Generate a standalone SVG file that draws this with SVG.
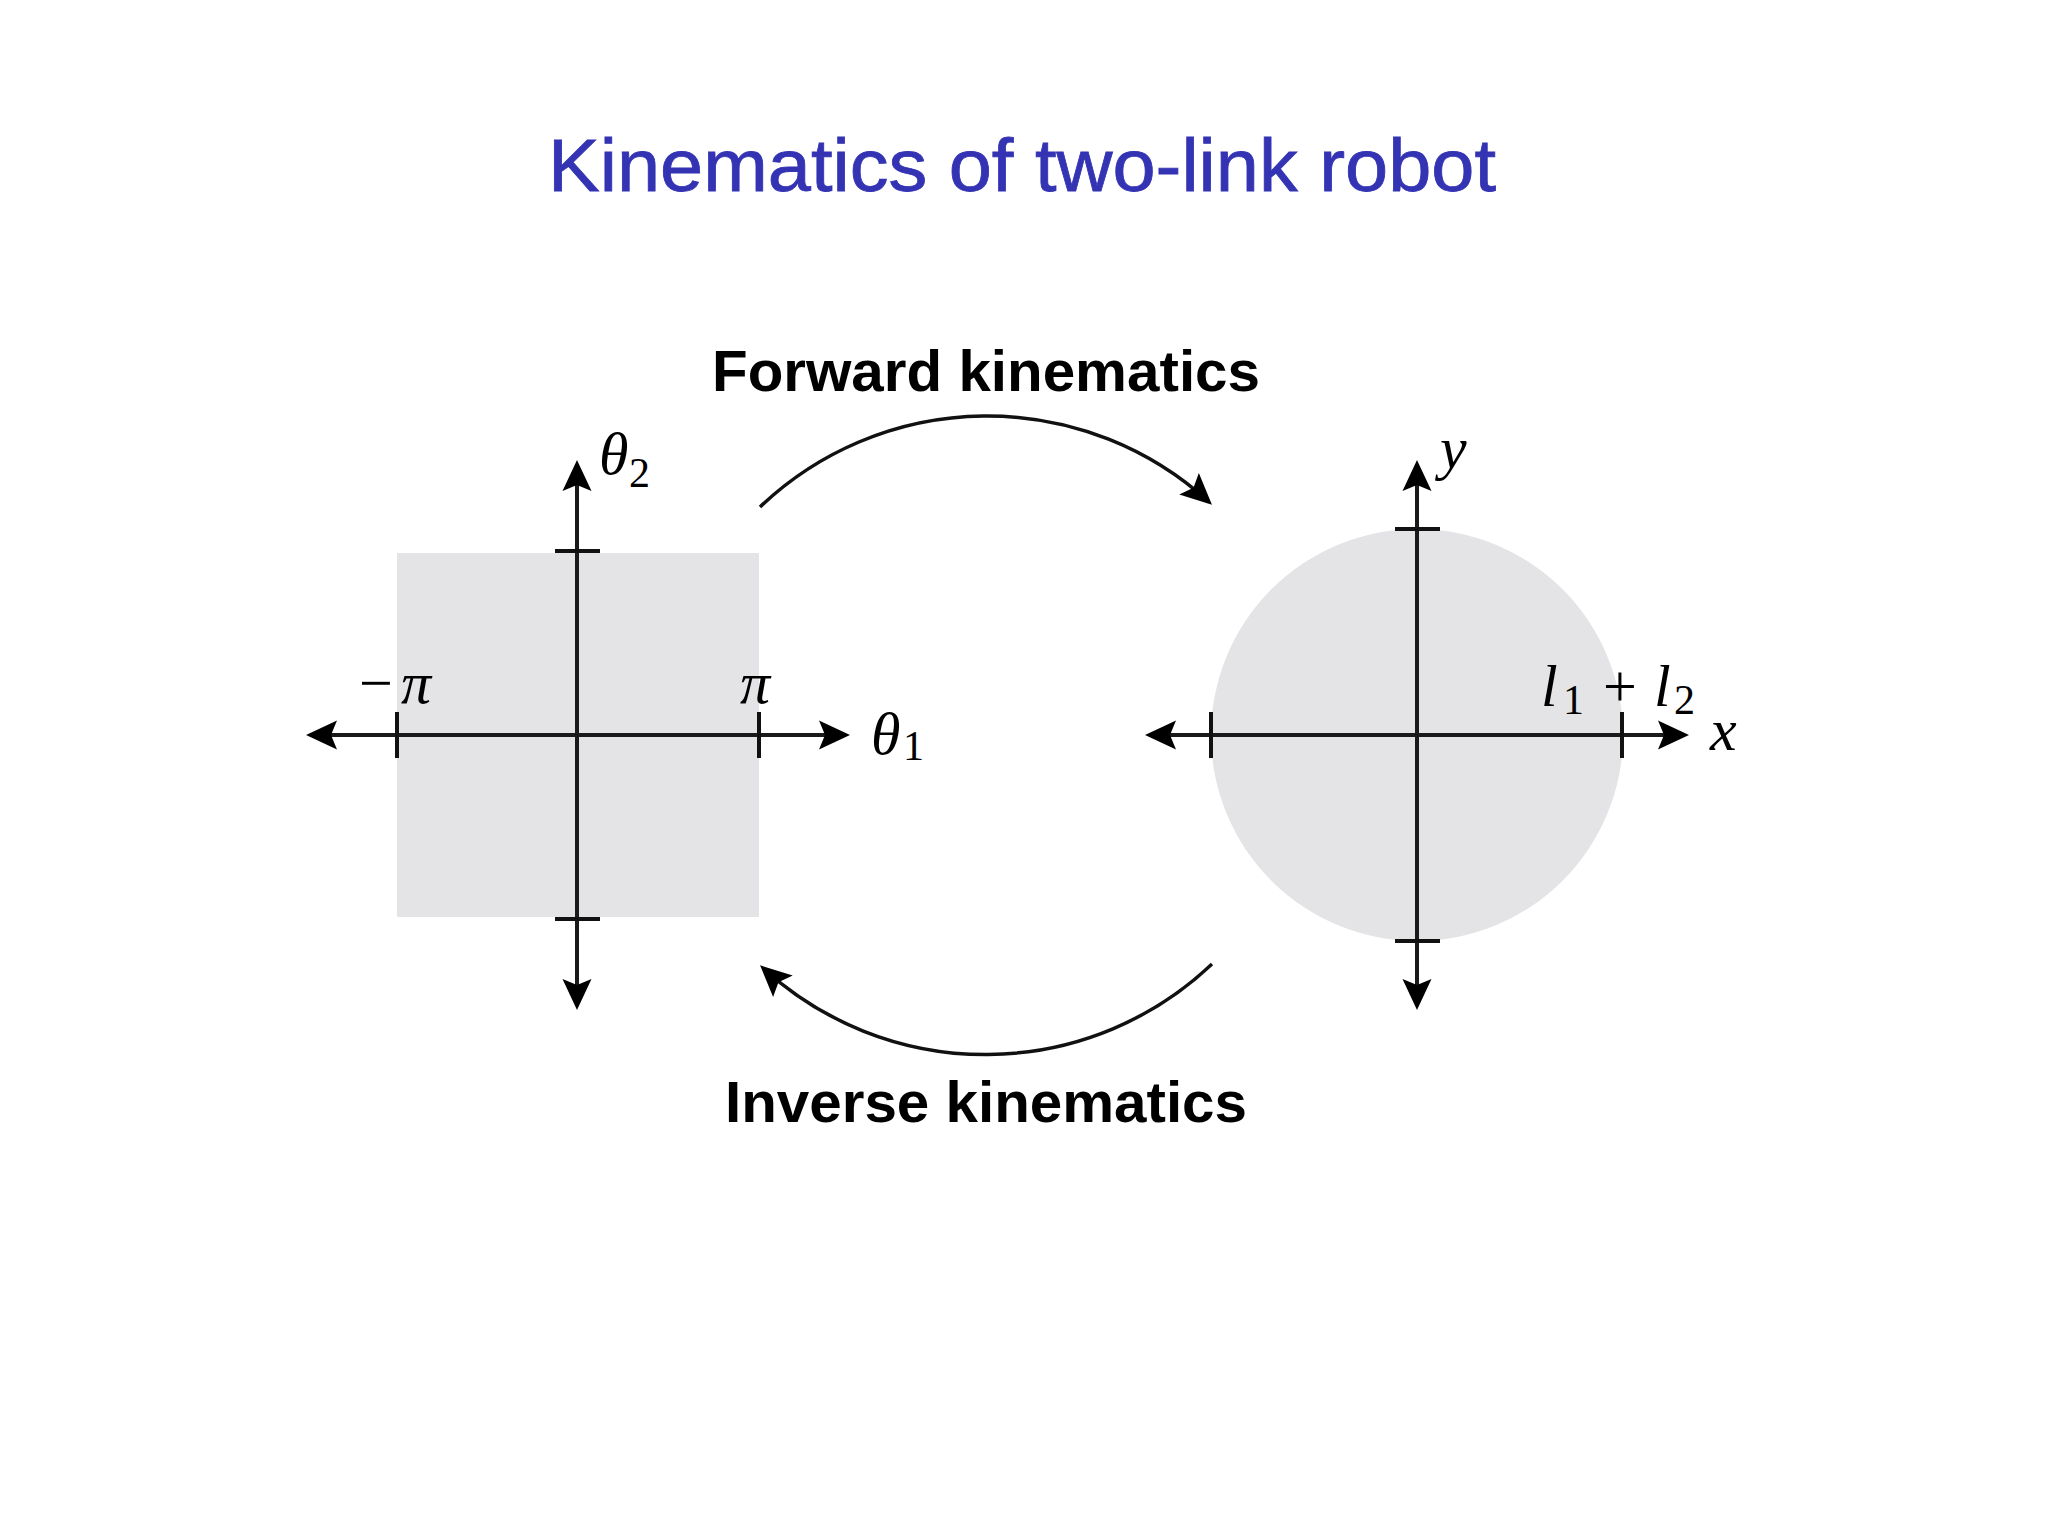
<svg xmlns="http://www.w3.org/2000/svg" width="2048" height="1536" viewBox="0 0 2048 1536">
  <style>
    .title { font-family: "Liberation Sans", Arial, sans-serif; font-size: 74px; fill: #3333b3; stroke: #3333b3; stroke-width: 0.8; }
    .lbl { font-family: "Liberation Sans", Arial, sans-serif; font-size: 58px; font-weight: bold; fill: #000; }
    .math { font-family: "Liberation Serif", "Times New Roman", serif; font-size: 60px; fill: #000; }
    .it { font-style: italic; }
    .sub { font-size: 42px; }
    .axis { stroke: #1a1a1a; stroke-width: 4; fill: none; marker-start: url(#ah); marker-end: url(#ah); }
    .tick { stroke: #111; stroke-width: 4; }
    .region { fill: #e4e4e7; stroke: none; }
    .curve { stroke: #111; stroke-width: 3.5; fill: none; marker-end: url(#ah); }
  </style>
  <defs>
    <marker id="ah" viewBox="-34 -17 40 34" refX="-4" refY="0" markerWidth="40" markerHeight="34" markerUnits="userSpaceOnUse" orient="auto-start-reverse">
      <path d="M0,0 L-31,-14.5 L-25,0 L-31,14.5 Z" fill="#000"/>
    </marker>
  </defs>
  <rect width="2048" height="1536" fill="#ffffff"/>

  <g id="title">
    <text class="title" x="548" y="191" textLength="948" lengthAdjust="spacingAndGlyphs">Kinematics of two-link robot</text>
  </g>

  <g id="joint-space">
    <rect class="region" x="397" y="553" width="362" height="364"/>
    <line class="axis" x1="310" y1="735" x2="846" y2="735"/>
    <line class="axis" x1="577" y1="1006" x2="577" y2="464"/>
    <line class="tick" x1="397" y1="712" x2="397" y2="758"/>
    <line class="tick" x1="759" y1="712" x2="759" y2="758"/>
    <line class="tick" x1="555" y1="551" x2="600" y2="551"/>
    <line class="tick" x1="555" y1="919" x2="600" y2="919"/>
    <text class="math" x="599" y="474"><tspan class="it">θ</tspan><tspan class="sub" x="629" y="487">2</tspan></text>
    <text class="math" x="359" y="703">−<tspan class="it" x="401">π</tspan></text>
    <text class="math it" x="740" y="703">π</text>
    <text class="math" x="871" y="754"><tspan class="it">θ</tspan><tspan class="sub" x="903" y="760">1</tspan></text>
  </g>

  <g id="task-space">
    <circle class="region" cx="1417" cy="735" r="206"/>
    <line class="axis" x1="1149" y1="735" x2="1685" y2="735"/>
    <line class="axis" x1="1417" y1="1006" x2="1417" y2="464"/>
    <line class="tick" x1="1211" y1="712" x2="1211" y2="758"/>
    <line class="tick" x1="1622" y1="712" x2="1622" y2="758"/>
    <line class="tick" x1="1395" y1="529" x2="1440" y2="529"/>
    <line class="tick" x1="1395" y1="941" x2="1440" y2="941"/>
    <text class="math it" x="1440" y="468">y</text>
    <text class="math" x="1541" y="706"><tspan class="it">l</tspan><tspan class="sub" x="1563" y="714">1</tspan><tspan x="1603" y="706">+</tspan><tspan class="it" x="1654" y="706">l</tspan><tspan class="sub" x="1674" y="714">2</tspan></text>
    <text class="math it" x="1710" y="750">x</text>
  </g>

  <g id="connectors">
    <path id="forward" class="curve" d="M 760 507 A 329 329 0 0 1 1209 502"/>
    <path id="inverse" class="curve" d="M 1212 964 A 329 329 0 0 1 763 968"/>
  </g>

  <g id="label-forward">
    <text class="lbl" x="712" y="391" textLength="548" lengthAdjust="spacingAndGlyphs">Forward kinematics</text>
  </g>
  <g id="label-inverse">
    <text class="lbl" x="725" y="1122" textLength="522" lengthAdjust="spacingAndGlyphs">Inverse kinematics</text>
  </g>
</svg>
